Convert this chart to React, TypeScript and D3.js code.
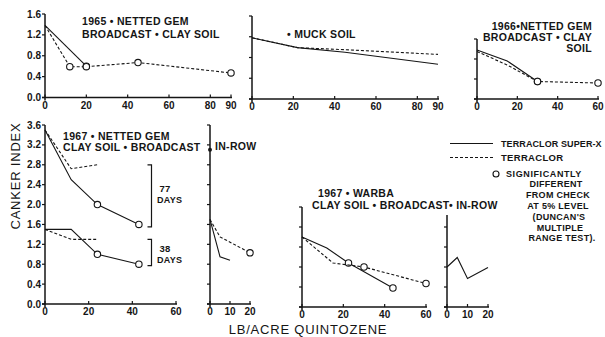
import * as d3 from 'd3';

type Series = { rates: number[]; index: number[]; sig: boolean[]; dashed: boolean };
type Frame = { left: number; right: number; bottom: number; top: number; xMax: number; yMax: number };

// 1965 · Netted Gem · broadcast · clay soil
const superX65Rates = [0, 20];
const superX65Index = [1.38, 0.6];
const superX65Sig = [false, true];
const terraclor65Rates = [0, 12, 20, 45, 90];
const terraclor65Index = [1.38, 0.59, 0.59, 0.67, 0.47];
const terraclor65Sig = [false, true, true, true, true];

// muck soil
const muckRates = [0, 22, 45, 90];
const muckSuperX = [1.18, 0.99, 0.9, 0.67];
const muckTerraclor = [1.18, 0.99, 0.95, 0.86];
const muckSig = [false, false, false, false];

// 1966 · Netted Gem · broadcast · clay soil
const superX66Rates = [0, 15, 30];
const superX66Index = [0.98, 0.76, 0.35];
const superX66Sig = [false, false, true];
const terraclor66Rates = [0, 15, 30, 60];
const terraclor66Index = [0.95, 0.68, 0.35, 0.32];
const terraclor66Sig = [false, false, true, true];

// 1967 · Netted Gem · clay soil · broadcast (77 and 38 days)
const superX67Rates = [0, 12, 24, 43];
const superX67Day77 = [3.5, 2.5, 2.0, 1.6];
const superX67Day38 = [1.5, 1.5, 1.0, 0.8];
const superX67Sig = [false, false, true, true];
const terraclor67Rates = [0, 12, 24];
const terraclor67Day77 = [3.5, 2.72, 2.8];
const terraclor67Day38 = [1.5, 1.3, 1.3];
const terraclor67Sig = [false, false, false];
const bracket77 = [2.8, 1.55];
const bracket38 = [1.3, 0.77];

// 1967 · Netted Gem · in-row
const inRowSuperXRates = [0, 5, 10];
const inRowSuperX = [1.7, 0.95, 0.88];
const inRowSuperXSig = [false, false, false];
const inRowTerraclorRates = [0, 5, 20];
const inRowTerraclor = [1.7, 1.35, 1.03];
const inRowTerraclorSig = [false, false, true];

// 1967 · Warba · clay soil · broadcast
const warbaSuperXRates = [0, 12, 22.5, 44];
const warbaSuperX = [1.4, 1.18, 0.88, 0.38];
const warbaSuperXSig = [false, false, true, true];
const warbaTerraclorRates = [0, 15, 30, 60];
const warbaTerraclor = [1.4, 0.88, 0.8, 0.47];
const warbaTerraclorSig = [false, false, true, true];

// 1967 · Warba · in-row
const warbaInRowRates = [0, 5, 10, 20];
const warbaInRow = [0.8, 0.99, 0.57, 0.79];
const warbaInRowSig = [false, false, false, false];

// tick values
const xTicks90 = [0, 20, 40, 60, 80, 90];
const xTicks60 = [0, 20, 40, 60];
const xTicks20 = [0, 10, 20];
const yTicks16 = [0, 0.4, 0.8, 1.2, 1.6];
const yTicks12 = [0, 0.4, 0.8, 1.2];
const yTicks36 = [0, 0.4, 0.8, 1.2, 1.6, 2.0, 2.4, 2.8, 3.2, 3.6];
const yTicks20 = [0, 0.4, 0.8, 1.2, 1.6, 2.0];

const frames: Record<string, Frame> = {
  a: { left: 45, right: 231, bottom: 97.5, top: 14, xMax: 90, yMax: 1.6 },
  b: { left: 252, right: 438, bottom: 99, top: 16, xMax: 90, yMax: 1.6 },
  c: { left: 477, right: 598, bottom: 99, top: 39, xMax: 60, yMax: 1.2 },
  d: { left: 45, right: 176, bottom: 304, top: 125, xMax: 60, yMax: 3.6 },
  e: { left: 210, right: 250, bottom: 304, top: 125, xMax: 20, yMax: 3.6 },
  f: { left: 302, right: 426, bottom: 307, top: 207, xMax: 60, yMax: 2.0 },
  g: { left: 447, right: 488, bottom: 307, top: 215, xMax: 20, yMax: 1.84 },
};

const ink = '#151515';
const font = "'Liberation Sans', Arial, sans-serif";
const fmt = d3.format('.1f');

const scales = (f: Frame) => ({
  x: d3.scaleLinear([0, f.xMax], [f.left, f.right]),
  y: d3.scaleLinear([0, f.yMax], [f.bottom, f.top]),
});

function Panel({ f, xTicks, yTicks, labels, series }: { f: Frame; xTicks: number[]; yTicks: number[]; labels?: boolean; series: Series[] }) {
  const { x, y } = scales(f);
  return (
    <g>
      <line x1={x(0) - 3} x2={f.right + 1} y1={y(0)} y2={y(0)} stroke={ink} strokeWidth={1.5} />
      <line x1={x(0)} x2={x(0)} y1={y(0) + 3} y2={f.top} stroke={ink} strokeWidth={1.5} />
      {yTicks.map((t) => (
        <g key={t}>
          <line x1={x(0) - 3} x2={x(0)} y1={y(t)} y2={y(t)} stroke={ink} strokeWidth={1.2} />
          {labels && (
            <text x={x(0) - 4} y={y(t) + 3.5} textAnchor="end" fontSize={10} fontWeight="bold" fontFamily={font} fill={ink}>
              {fmt(t)}
            </text>
          )}
        </g>
      ))}
      {xTicks.map((t) => (
        <g key={t}>
          <line x1={x(t)} x2={x(t)} y1={y(0)} y2={y(0) - 3} stroke={ink} strokeWidth={1.2} />
          <text x={x(t)} y={y(0) + 11} textAnchor="middle" fontSize={10} fontWeight="bold" fontFamily={font} fill={ink}>
            {t}
          </text>
        </g>
      ))}
      {series.map((s, i) => {
        const pts = s.rates.map((r, j) => [r, s.index[j]] as [number, number]);
        const line = d3.line<[number, number]>((d) => x(d[0]), (d) => y(d[1]));
        return (
          <g key={i}>
            <path d={line(pts) ?? ''} fill="none" stroke={ink} strokeWidth={1.1} strokeDasharray={s.dashed ? '3,2' : undefined} />
            {pts.map((p, j) =>
              s.sig[j] ? <circle key={j} cx={x(p[0])} cy={y(p[1])} r={3.2} fill="#fff" stroke={ink} strokeWidth={1.1} /> : null
            )}
          </g>
        );
      })}
    </g>
  );
}

const S = (rates: number[], index: number[], sig: boolean[], dashed: boolean): Series => ({ rates, index, sig, dashed });

function Label({ x, y, children, size = 10.5, anchor = 'start', weight = 'bold', spacing = 0.3 }: any) {
  return (
    <text x={x} y={y} fontSize={size} fontWeight={weight} fontFamily={font} fill={ink} textAnchor={anchor} letterSpacing={spacing}>
      {children}
    </text>
  );
}

function Bracket({ f, span }: { f: Frame; span: number[] }) {
  const { y } = scales(f);
  const bx = 151.5;
  return <path d={`M${bx - 4},${y(span[0])}H${bx}V${y(span[1])}H${bx - 4}`} fill="none" stroke={ink} strokeWidth={1.2} />;
}

export default function App() {
  const fe = scales(frames.e);
  return (
    <svg width={605} height={337} style={{ position: 'absolute', left: 0, top: 0, background: '#fff' }}>
      <Panel
        f={frames.a}
        xTicks={xTicks90}
        yTicks={yTicks16}
        labels
        series={[S(superX65Rates, superX65Index, superX65Sig, false), S(terraclor65Rates, terraclor65Index, terraclor65Sig, true)]}
      />
      <Panel
        f={frames.b}
        xTicks={xTicks90}
        yTicks={yTicks16}
        series={[S(muckRates, muckSuperX, muckSig, false), S(muckRates, muckTerraclor, muckSig, true)]}
      />
      <Panel
        f={frames.c}
        xTicks={xTicks60}
        yTicks={yTicks12}
        series={[S(superX66Rates, superX66Index, superX66Sig, false), S(terraclor66Rates, terraclor66Index, terraclor66Sig, true)]}
      />
      <Panel
        f={frames.d}
        xTicks={xTicks60}
        yTicks={yTicks36}
        labels
        series={[
          S(superX67Rates, superX67Day77, superX67Sig, false),
          S(superX67Rates, superX67Day38, superX67Sig, false),
          S(terraclor67Rates, terraclor67Day77, terraclor67Sig, true),
          S(terraclor67Rates, terraclor67Day38, terraclor67Sig, true),
        ]}
      />
      <Panel
        f={frames.e}
        xTicks={xTicks20}
        yTicks={yTicks36}
        series={[
          S(inRowSuperXRates, inRowSuperX, inRowSuperXSig, false),
          S(inRowTerraclorRates, inRowTerraclor, inRowTerraclorSig, true),
        ]}
      />
      <Panel
        f={frames.f}
        xTicks={xTicks60}
        yTicks={yTicks20}
        series={[
          S(warbaSuperXRates, warbaSuperX, warbaSuperXSig, false),
          S(warbaTerraclorRates, warbaTerraclor, warbaTerraclorSig, true),
        ]}
      />
      <Panel f={frames.g} xTicks={xTicks20} yTicks={yTicks16} series={[S(warbaInRowRates, warbaInRow, warbaInRowSig, false)]} />

      {/* panel titles */}
      <Label x={82} y={25}>1965 • NETTED GEM</Label>
      <Label x={82} y={37.5}>BROADCAST • CLAY SOIL</Label>
      <Label x={287} y={37.5}>• MUCK SOIL</Label>
      <Label x={592} y={30} anchor="end">1966•NETTED GEM</Label>
      <Label x={592} y={41} anchor="end">BROADCAST • CLAY</Label>
      <Label x={592} y={52} anchor="end">SOIL</Label>
      <Label x={63} y={140}>1967 • NETTED GEM</Label>
      <Label x={63} y={151}>CLAY SOIL • BROADCAST</Label>
      <circle cx={frames.e.left} cy={fe.y(3.1)} r={2} fill={ink} />
      <Label x={215} y={150}>IN-ROW</Label>
      <Label x={318} y={197}>1967 • WARBA</Label>
      <Label x={312} y={208.5}>CLAY SOIL • BROADCAST</Label>
      <Label x={449} y={208.5}>• IN-ROW</Label>

      {/* day brackets */}
      <Bracket f={frames.d} span={bracket77} />
      <Bracket f={frames.d} span={bracket38} />
      <Label x={165} y={192} size={9.5} anchor="middle">77</Label>
      <Label x={157} y={203} size={9}>DAYS</Label>
      <Label x={165} y={252} size={9.5} anchor="middle">38</Label>
      <Label x={157} y={263} size={9}>DAYS</Label>

      {/* legend */}
      <line x1={450} x2={493} y1={143.5} y2={143.5} stroke={ink} strokeWidth={1.1} />
      <Label x={501} y={147} size={9} spacing={0.1}>TERRACLOR SUPER-X</Label>
      <line x1={450} x2={493} y1={157.5} y2={157.5} stroke={ink} strokeWidth={1.1} strokeDasharray="3,2" />
      <Label x={501} y={161} size={9.5}>TERRACLOR</Label>
      <circle cx={496} cy={174} r={3} fill="#fff" stroke={ink} strokeWidth={1.1} />
      <Label x={506} y={177} size={9} spacing={0.6}>SIGNIFICANTLY</Label>
      <Label x={556} y={187} size={9} anchor="middle">DIFFERENT</Label>
      <Label x={558} y={198} size={9} anchor="middle">FROM CHECK</Label>
      <Label x={558} y={209} size={9} anchor="middle">AT 5% LEVEL</Label>
      <Label x={559} y={220} size={9} anchor="middle">(DUNCAN'S</Label>
      <Label x={560} y={230.5} size={9} anchor="middle">MULTIPLE</Label>
      <Label x={562} y={241} size={9} anchor="middle">RANGE TEST).</Label>

      {/* axis titles */}
      <text
        transform="translate(20,176) rotate(-90)"
        textAnchor="middle"
        fontSize={13}
        fontFamily={font}
        letterSpacing={0.8}
        fill={ink}
      >
        CANKER INDEX
      </text>
      <text x={308} y={334} textAnchor="middle" fontSize={13} fontFamily={font} letterSpacing={0.8} fill={ink}>
        LB/ACRE QUINTOZENE
      </text>
    </svg>
  );
}
